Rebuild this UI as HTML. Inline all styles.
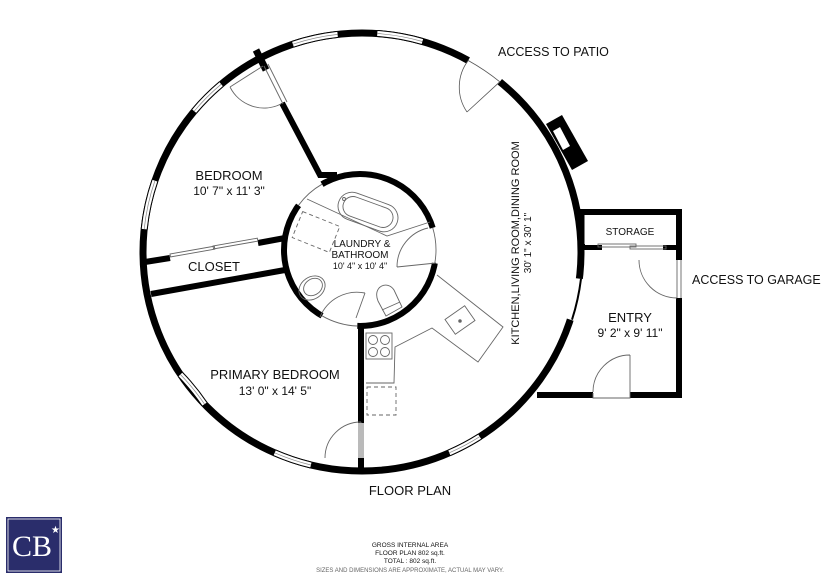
<!DOCTYPE html>
<html><head><meta charset="utf-8"><style>
html,body{margin:0;padding:0;background:#fff;}
svg{display:block;font-family:"Liberation Sans","DejaVu Sans",sans-serif;}
</style></head><body>
<svg width="821" height="579" viewBox="0 0 821 579" xmlns="http://www.w3.org/2000/svg">
<rect width="821" height="579" fill="#fff"/>
<polygon points="546,124 562,115 588,161 572,170" fill="#000"/>
<polygon points="553,131 560,127 570,146 563,150" fill="#fff"/>
<circle cx="362" cy="252" r="219" fill="none" stroke="#000" stroke-width="7"/>
<g fill="none">
<g stroke="#000" stroke-width="7">
<path d="M194.2,111.2 A219,219 0 0 1 221.2,84.2"/>
<path d="M144.2,229.1 A219,219 0 0 1 154.9,180.7"/>
<path d="M180.4,374.5 A219,219 0 0 1 204.5,404.1" />
<path d="M274.7,452.8 A219,219 0 0 0 310.9,465" />
<path d="M449.3,452.8 A219,219 0 0 0 479.7,436.7"/>
<path d="M292.9,44.2 A219,219 0 0 1 337.6,34.4"/>
<path d="M377.3,33.5 A219,219 0 0 1 422.4,41.5"/>
</g>
<g stroke="#fff" stroke-width="5">
<path d="M194.2,111.2 A219,219 0 0 1 221.2,84.2"/>
<path d="M144.2,229.1 A219,219 0 0 1 154.9,180.7"/>
<path d="M180.4,374.5 A219,219 0 0 1 204.5,404.1" />
<path d="M274.7,452.8 A219,219 0 0 0 310.9,465" />
<path d="M449.3,452.8 A219,219 0 0 0 479.7,436.7"/>
<path d="M292.9,44.2 A219,219 0 0 1 337.6,34.4"/>
<path d="M377.3,33.5 A219,219 0 0 1 422.4,41.5"/>
</g>
<g stroke="#888" stroke-width="0.7">
<path d="M194.2,111.2 A219,219 0 0 1 221.2,84.2"/>
<path d="M144.2,229.1 A219,219 0 0 1 154.9,180.7"/>
<path d="M180.4,374.5 A219,219 0 0 1 204.5,404.1" />
<path d="M274.7,452.8 A219,219 0 0 0 310.9,465" />
<path d="M449.3,452.8 A219,219 0 0 0 479.7,436.7"/>
<path d="M292.9,44.2 A219,219 0 0 1 337.6,34.4"/>
<path d="M377.3,33.5 A219,219 0 0 1 422.4,41.5"/>
</g>
<path d="M468.2,60.5 A219,219 0 0 1 499.8,81.8" stroke="#fff" stroke-width="10"/>
<path d="M468.2,60.5 A219,219 0 0 1 499.8,81.8" stroke="#555" stroke-width="0.8"/>
<path d="M499.8,81.8 L467,112 M467,112 A44,44 0 0 1 468.2,60.5" stroke="#555" stroke-width="0.8"/>
<path d="M579.4,278.7 A219,219 0 0 1 570.3,319.7" stroke="#fff" stroke-width="9"/>
<path d="M581,278.7 A221,221 0 0 1 572,319.7" stroke="#000" stroke-width="2"/>
</g>
<g fill="none" stroke="#000" stroke-width="6">
<path d="M582,212 H679 V260 M679,298 V395 H630 M593,395 H537"/>
<path d="M582,247 H602 M663,247 H679"/>
</g>
<rect x="585" y="215" width="91" height="30" fill="#fff"/>
<path d="M582,209 V245" stroke="#000" stroke-width="5"/>
<g fill="none" stroke="#666" stroke-width="0.9">
<rect x="598" y="244" width="38" height="3"/><rect x="630" y="246" width="36" height="3"/>
<path d="M677,260 V298 M681,260 V298"/>
<path d="M639,260 A38,38 0 0 0 677,298"/>
<path d="M593,393 V398 H630 V393 M630,395 V355 M630,355 A37,37 0 0 0 593,392"/>
</g>
<path d="M282,103 L320,175 L337,175" fill="none" stroke="#000" stroke-width="6"/>
<path d="M256,50 L266,70" stroke="#000" stroke-width="7"/>
<g fill="none" stroke="#666" stroke-width="0.9">
<path d="M264,66 L283,104 M268,64 L287,102"/>
<path d="M263,66 L230,87 M230,87 A38,38 0 0 0 281,104"/>
</g>
<g stroke="#000" stroke-width="6" fill="none">
<path d="M145,262 L170,258 M258,243 L285,238"/>
<path d="M151,294 L285,270"/>
</g>
<g fill="none" stroke="#666" stroke-width="0.9">
<rect x="170" y="254" width="45" height="3" transform="rotate(-10 170 254)"/>
<rect x="213" y="246" width="45" height="3" transform="rotate(-10 213 246)"/>
</g>
<path d="M361,325 V423 M361,458 V472" stroke="#000" stroke-width="6"/>
<g fill="none" stroke="#666" stroke-width="0.9">
<path d="M359,423 V458 M363,423 V458"/>
<path d="M361,422 A36,36 0 0 0 325,458 M361,422 L361,458"/>
</g>
<circle cx="360" cy="250" r="76" fill="#fff" stroke="#000" stroke-width="6"/>
<path d="M432.7,227.8 A76,76 0 0 1 434.8,263.2" fill="none" stroke="#fff" stroke-width="9"/>
<path d="M357.3,326 A76,76 0 0 1 322,315.8" fill="none" stroke="#fff" stroke-width="9"/>
<path d="M298.5,205.3 A76,76 0 0 1 322,184.2" fill="none" stroke="#fff" stroke-width="8"/>
<g fill="none" stroke="#666" stroke-width="0.9">
<path d="M298.5,205.3 A76,76 0 0 1 322,184.2"/>
<path d="M432.7,227.8 A76,76 0 0 1 434.8,263.2"/>
<path d="M357.3,326 A76,76 0 0 1 322,315.8"/>
<path d="M436,263 L397,267 M397,267 A40,40 0 0 1 428,228"/>
<path d="M356,318 L365,293 M365,293 A40,40 0 0 0 320,317"/>
<path d="M307,199 L387,236 L430,222"/>
<rect x="337" y="198" width="62" height="28" rx="14" transform="rotate(20 368 212)"/>
<rect x="342" y="202" width="52" height="20" rx="10" transform="rotate(20 368 212)"/>
<circle cx="344" cy="199" r="1.5"/>
<rect x="296" y="218" width="40" height="28" stroke-dasharray="4,3" transform="rotate(22 316 232)"/>
<ellipse cx="312" cy="288" rx="14" ry="11" transform="rotate(-35 312 288)"/>
<ellipse cx="313" cy="287" rx="10" ry="8" transform="rotate(-35 313 287)"/>
<path d="M378,301 C372,286 388,280 394,290 L402,307 L386,316 Z M382,310 L400,302"/>
<path d="M437,275 L503,327 L478,362 L432,328 L395,347 L394,383 L366,383"/>
<rect x="366" y="333" width="26" height="26"/>
<circle cx="373" cy="340" r="4.5"/><circle cx="385" cy="340" r="4.5"/>
<circle cx="373" cy="352" r="4.5"/><circle cx="385" cy="352" r="4.5"/>
<rect x="448" y="311" width="24" height="18" transform="rotate(-35 460 320)"/>
<circle cx="460" cy="321" r="1.3" fill="#666"/>
<rect x="367" y="387" width="29" height="28" stroke-dasharray="4,3"/>
</g>
<g fill="#111" text-anchor="middle">
<text x="498" y="56" font-size="12.5" text-anchor="start">ACCESS TO PATIO</text>
<text x="229" y="180" font-size="13">BEDROOM</text>
<text x="229" y="195" font-size="12">10' 7" x 11' 3"</text>
<text x="214" y="271" font-size="13">CLOSET</text>
<text x="362" y="247" font-size="10">LAUNDRY &amp;</text>
<text x="360" y="258" font-size="10">BATHROOM</text>
<text x="360" y="269" font-size="9">10' 4" x 10' 4"</text>
<text transform="translate(519,243) rotate(-90)" font-size="11">KITCHEN,LIVING ROOM,DINING ROOM</text>
<text transform="translate(531,243) rotate(-90)" font-size="10">30' 1" x 30' 1"</text>
<text x="275" y="379" font-size="13">PRIMARY BEDROOM</text>
<text x="275" y="395" font-size="12">13' 0" x 14' 5"</text>
<text x="630" y="235" font-size="10">STORAGE</text>
<text x="692" y="284" font-size="12.5" text-anchor="start">ACCESS TO GARAGE</text>
<text x="630" y="322" font-size="13">ENTRY</text>
<text x="630" y="337" font-size="12">9' 2" x 9' 11"</text>
<text x="410" y="495" font-size="13">FLOOR PLAN</text>
<text x="410" y="547" font-size="6.5">GROSS INTERNAL AREA</text>
<text x="410" y="555" font-size="6.5">FLOOR PLAN 802 sq.ft.</text>
<text x="410" y="563" font-size="6.5">TOTAL :  802 sq.ft.</text>
<text x="410" y="572" font-size="6" fill="#666">SIZES AND DIMENSIONS ARE APPROXIMATE, ACTUAL MAY VARY.</text>
</g>
<rect x="6" y="517" width="56" height="56" fill="#2a2d6b"/>
<rect x="8" y="519" width="52" height="52" fill="none" stroke="#fff" stroke-width="0.8"/>
<text x="32" y="556" font-size="30" fill="#fff" text-anchor="middle" font-family="Liberation Serif, serif">CB</text>
<text x="51" y="533" font-size="10" fill="#fff">★</text>
</svg>
</body></html>
